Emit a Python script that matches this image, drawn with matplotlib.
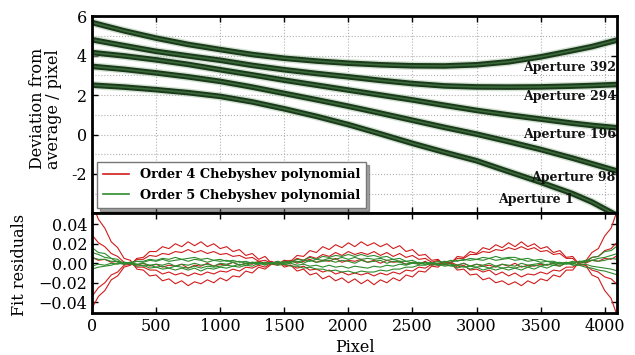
import numpy as np
import matplotlib
matplotlib.use("Agg")
import matplotlib.pyplot as plt
from matplotlib.lines import Line2D

plt.rcParams['font.family'] = ['DejaVu Serif']
plt.rcParams['mathtext.fontset'] = 'dejavuserif'

# trace positions (pixel) and deviation from the average trace, per aperture
trace_px = [0, 250, 500, 750, 1000, 1250, 1500, 1750, 2000, 2250, 2500,
            2750, 3000, 3250, 3500, 3750, 3900, 4096]
ap392 = [5.67, 5.25, 4.88, 4.56, 4.30, 4.05, 3.86, 3.72, 3.61, 3.53, 3.48,
         3.47, 3.53, 3.68, 3.93, 4.25, 4.45, 4.78]
ap294 = [4.80, 4.50, 4.21, 3.98, 3.76, 3.50, 3.28, 3.09, 2.92, 2.74, 2.58,
         2.46, 2.41, 2.40, 2.41, 2.45, 2.48, 2.53]
ap196 = [4.15, 3.98, 3.78, 3.55, 3.28, 3.02, 2.75, 2.50, 2.25, 2.00, 1.75,
         1.48, 1.22, 0.99, 0.78, 0.57, 0.46, 0.34]
ap98 = [3.45, 3.30, 3.12, 2.92, 2.69, 2.40, 2.08, 1.76, 1.43, 1.08, 0.72,
        0.36, 0.02, -0.36, -0.76, -1.20, -1.48, -1.85]
ap1 = [2.50, 2.40, 2.27, 2.12, 1.93, 1.65, 1.30, 0.92, 0.50, 0.03, -0.45,
       -0.90, -1.33, -1.88, -2.42, -3.00, -3.42, -4.10]
apertures = [ap392, ap294, ap196, ap98, ap1]
ap_names = ["Aperture 392", "Aperture 294", "Aperture 196", "Aperture 98", "Aperture 1"]
ap_label_y = [3.38, 1.92, 0.0, -2.17, -3.28]
ap_label_x = [4086, 4086, 4086, 4086, 3758]

# fit residuals (units of 1e-3 pixel), sampled every 50 pixels
res_step = 50
order4 = [
    [62, 45, 36, 22, 16, 5, 3, -6, -7, -13,
     -12, -18, -16, -21, -18, -23, -19, -21, -17, -20,
     -15, -18, -13, -14, -8, -10, -4, -6, -1, -2,
     3, 2, 8, 7, 13, 11, 17, 14, 19, 16,
     21, 17, 22, 18, 21, 17, 20, 15, 18, 12,
     14, 8, 9, 3, 4, -2, 0, -7, -6, -12,
     -11, -17, -15, -20, -18, -22, -19, -23, -18, -21,
     -16, -18, -12, -14, -7, -7, 1, 2, 11, 15,
     28, 36, 55],
    [-46, -34, -28, -17, -13, -4, -2, 5, 6, 12,
     12, 17, 15, 20, 17, 22, 18, 22, 17, 20,
     15, 17, 12, 14, 8, 10, 4, 7, 0, 2,
     -4, -2, -8, -6, -12, -10, -16, -13, -18, -15,
     -20, -16, -21, -17, -22, -17, -20, -15, -18, -12,
     -14, -8, -9, -3, -4, 2, 0, 7, 6, 12,
     10, 16, 14, 19, 16, 21, 17, 22, 17, 20,
     15, 17, 11, 13, 6, 7, -1, -2, -12, -15,
     -28, -36, -55],
    [29, 21, 17, 10, 7, 1, 0, -4, -4, -7,
     -7, -11, -9, -12, -10, -13, -10, -12, -9, -11,
     -8, -9, -6, -8, -4, -5, -2, -4, 0, -1,
     3, 1, 5, 3, 7, 5, 9, 7, 11, 8,
     12, 9, 11, 9, 12, 8, 11, 7, 10, 6,
     8, 4, 5, 1, 3, -1, 0, -4, -2, -7,
     -6, -9, -7, -12, -9, -13, -10, -14, -11, -12,
     -9, -11, -7, -8, -4, -4, 0, 1, 6, 7,
     13, 15, 22],
    [-34, -25, -20, -12, -9, -2, -1, 4, 4, 8,
     7, 10, 9, 12, 11, 14, 11, 13, 10, 12,
     9, 10, 7, 8, 5, 6, 2, 3, 0, 1,
     -2, -2, -5, -3, -7, -6, -9, -7, -11, -9,
     -12, -10, -12, -10, -13, -10, -12, -9, -11, -7,
     -8, -4, -5, -1, -2, 1, 1, 5, 5, 9,
     9, 12, 11, 14, 13, 16, 14, 17, 14, 16,
     12, 13, 9, 10, 5, 5, -1, -2, -7, -9,
     -14, -16, -22],
    [6, 3, 4, 1, 2, -1, 1, -2, 0, -3,
     -1, -4, -2, -3, -1, -5, -2, -3, 0, -3,
     -1, -2, 1, -2, 0, -1, 2, 0, 2, -1,
     1, 3, 0, 2, 4, 1, 3, 2, 5, 1,
     3, 2, 4, 1, 3, 0, 3, 1, 2, -1,
     1, -1, 2, -2, 0, -1, 1, -2, 0, -3,
     -1, -3, -2, -4, -1, -3, 0, -4, -2, -3,
     -1, -2, 0, -3, 1, -1, 2, 0, 3, 2,
     5, 4, 8],
]
order5 = [
    [16, 11, 10, 5, 4, -1, 0, -3, -2, -5,
     -4, -6, -5, -7, -5, -7, -5, -8, -5, -6,
     -4, -5, -3, -4, -2, -3, 0, -2, 1, -1,
     2, 1, 4, 3, 6, 4, 7, 6, 8, 7,
     9, 7, 9, 7, 8, 6, 7, 4, 5, 2,
     3, 0, 1, -2, -1, -3, -2, -5, -3, -6,
     -4, -7, -5, -7, -5, -7, -5, -7, -4, -6,
     -3, -5, -2, -3, 0, -1, 2, 2, 6, 7,
     12, 13, 18],
    [11, 9, 6, 5, 1, 1, -1, -1, -3, -2,
     -4, -3, -5, -3, -4, -5, -3, -5, -3, -4,
     -3, -2, -3, -1, -2, 0, -1, 1, -1, 1,
     0, 2, 1, 3, 2, 4, 3, 5, 4, 6,
     4, 6, 4, 5, 4, 5, 3, 4, 2, 2,
     0, 1, -1, 0, -2, -1, -3, -2, -4, -3,
     -4, -3, -5, -3, -5, -4, -5, -3, -4, -2,
     -3, -1, -2, 0, 0, 1, 1, 3, 3, 5,
     6, 8, 10],
    [6, 4, 4, 2, 2, 0, 1, -1, 0, -2,
     -1, -2, 0, -3, -1, -2, 0, -2, -1, -3,
     0, -1, 1, -2, 0, 1, -1, 1, 0, 2,
     0, 1, 2, 0, 3, 1, 2, 3, 1, 3,
     2, 0, 3, 1, 2, 3, 0, 2, 1, -1,
     1, 0, -1, 1, -2, 0, -1, -2, 0, -3,
     -1, -2, 0, -3, -1, -2, -3, 0, -2, -1,
     0, -2, 1, -1, 0, 2, 0, 1, 3, 2,
     3, 5, 4],
    [-3, -1, -2, 0, -1, 1, 0, 2, 1, 3,
     2, 4, 2, 3, 4, 2, 4, 3, 1, 3,
     2, 3, 1, 2, 0, 1, 1, -1, 0, 1,
     -1, 0, -2, -1, -3, -2, -4, -2, -4, -3,
     -5, -3, -4, -5, -3, -4, -2, -3, -1, -2,
     0, -1, 1, 0, 2, 1, 3, 2, 4, 3,
     4, 3, 5, 3, 4, 5, 3, 4, 2, 3,
     1, 2, 0, 1, -1, 0, -2, -1, -3, -4,
     -5, -6, -8],
    [-6, -4, -3, -2, 0, -1, 1, 2, 2, 4,
     3, 5, 4, 6, 4, 5, 6, 4, 5, 3,
     4, 2, 3, 1, 2, 0, 1, -1, 0, -2,
     -1, -3, -3, -5, -4, -6, -6, -8, -7, -9,
     -8, -10, -8, -9, -9, -7, -8, -6, -6, -4,
     -4, -2, -2, 0, 0, 2, 1, 3, 3, 5,
     4, 6, 5, 7, 5, 6, 6, 4, 5, 3,
     4, 2, 2, 0, 1, -2, -2, -4, -5, -7,
     -8, -10, -12],
]

x_ticks = [0, 500, 1000, 1500, 2000, 2500, 3000, 3500, 4000]
red = '#d01c1c'
green = '#2e8b2e'

fig = plt.figure(figsize=(6.35, 3.55), dpi=100)
ax1 = fig.add_axes([0.1449, 0.3986, 0.8268, 0.5563])
ax2 = fig.add_axes([0.1449, 0.1183, 0.8268, 0.2803])

for ax in (ax1, ax2):
    for s in ax.spines.values():
        s.set_linewidth(2)
    ax.tick_params(direction='in', top=True, right=True, length=4,
                   labelsize=11.5, width=1)
    ax.set_xlim(0, 4096)
    ax.set_xticks(x_ticks)

# upper panel: traces
for y in range(-4, 7):
    ax1.axhline(y, color='#b0b0b0', ls=':', lw=0.8, zorder=0)
for xv in x_ticks:
    ax1.axvline(xv, color='#b0b0b0', ls=':', lw=0.8, zorder=0)
for ap in apertures:
    ax1.plot(trace_px, ap, color='#a9c4a9', lw=6, alpha=0.5, solid_capstyle='butt')
    ax1.plot(trace_px, ap, color='#1b3a1b', lw=4, solid_capstyle='butt')
    ax1.plot(trace_px, ap, color='#3a6a3a', lw=1.2)
for name, lx, ly in zip(ap_names, ap_label_x, ap_label_y):
    ax1.text(lx, ly, name, ha='right', va='center', fontsize=9,
             fontweight='bold', color='#111111')
ax1.set_ylim(-4, 6)
ax1.set_yticks([-2, 0, 2, 4, 6])
ax1.set_yticklabels(['-2', '0', '2', '4', '6'])
ax1.tick_params(labelbottom=False)
ax1.set_ylabel("Deviation from\naverage / pixel", fontsize=11.5, linespacing=0.95)
ax1.yaxis.set_label_coords(-0.057, 0.53)

handles = [Line2D([], [], color=red, lw=1.2), Line2D([], [], color=green, lw=1.2)]
leg = ax1.legend(handles, ["Order 4 Chebyshev polynomial", "Order 5 Chebyshev polynomial"],
                 loc='lower left', bbox_to_anchor=(0.0095, 0.028), borderaxespad=0,
                 prop={'size': 9.3, 'weight': 'bold'}, fancybox=False, shadow=True,
                 framealpha=1, edgecolor='#777777', handlelength=2.0,
                 labelspacing=0.55, borderpad=0.5)

# lower panel: fit residuals
for r in order4:
    px = np.arange(len(r)) * res_step
    ax2.plot(px, np.array(r) / 1000.0, color=red, lw=0.8)
for g in order5:
    px = np.arange(len(g)) * res_step
    ax2.plot(px, np.array(g) / 1000.0, color=green, lw=0.8)
ax2.set_ylim(-0.051, 0.051)
ax2.set_yticks([-0.04, -0.02, 0.0, 0.02, 0.04])
ax2.set_yticklabels(['\u22120.04', '\u22120.02', '0.00', '0.02', '0.04'])
ax2.set_xlabel("Pixel", fontsize=11.5, labelpad=3)
ax2.set_ylabel("Fit residuals", fontsize=11.5)
ax2.yaxis.set_label_coords(-0.122, 0.48)

fig.savefig("out.png", dpi=100)
